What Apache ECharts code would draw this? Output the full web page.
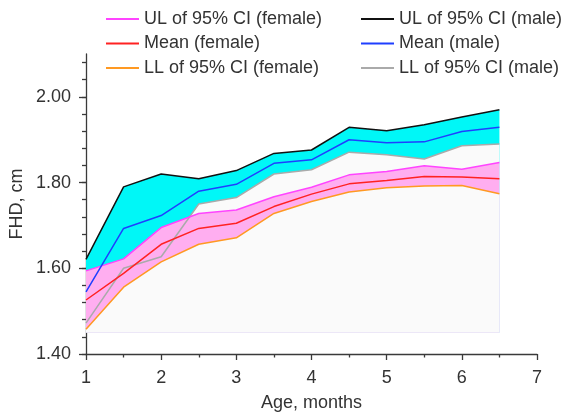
<!DOCTYPE html>
<html>
<head>
<meta charset="utf-8">
<script src="https://cdn.jsdelivr.net/npm/echarts@6/dist/echarts.min.js"></script>
<style>
html,body{margin:0;padding:0;background:#fff;}
#chart{width:568px;height:414px;}
</style>
</head>
<body>
<div id="chart"></div>
<script>
// ---- data ----
const ages = [1, 1.5, 2, 2.5, 3, 3.5, 4, 4.5, 5, 5.5, 6, 6.5];
const maleUL     = [1.621, 1.790, 1.820, 1.809, 1.828, 1.868, 1.876, 1.929, 1.921, 1.935, 1.953, 1.970];
const maleMean   = [1.545, 1.693, 1.723, 1.780, 1.796, 1.845, 1.853, 1.900, 1.893, 1.895, 1.919, 1.929];
const maleLL     = [1.472, 1.600, 1.627, 1.750, 1.765, 1.820, 1.830, 1.871, 1.865, 1.855, 1.886, 1.890];
const femaleUL   = [1.594, 1.622, 1.695, 1.728, 1.736, 1.767, 1.789, 1.818, 1.826, 1.839, 1.831, 1.847];
const femaleMean = [1.526, 1.588, 1.656, 1.693, 1.705, 1.744, 1.773, 1.797, 1.805, 1.814, 1.813, 1.809];
const femaleLL   = [1.458, 1.556, 1.615, 1.656, 1.671, 1.728, 1.756, 1.778, 1.788, 1.792, 1.793, 1.774];
const areaBase = 1.45;
const seriesNames = {
  fUL: 'UL of 95% CI (female)', fMean: 'Mean (female)', fLL: 'LL of 95% CI (female)',
  mUL: 'UL of 95% CI (male)', mMean: 'Mean (male)', mLL: 'LL of 95% CI (male)'
};
const xMin = 1, xMax = 7, xStep = 1;
const yMin = 1.4, yMax = 2.1, yMajor = 0.2, yMinor = 0.04, yMinorTop = 2.08, yMajorTop = 2.0;

// ---- layout ----
const plotLeft = 86, plotRight = 537, plotTop = 54, plotBottom = 354, H = 414;
const pxPerUnit = (plotBottom - plotTop) / (yMax - yMin);
const FONT = 'Liberation Sans, Arial, Helvetica, sans-serif';
const AX = '#3a3a3a';
const TXT = '#333';

function pairs(arr) { return ages.map((a, i) => [a, arr[i]]); }
function gridFor(top) {
  return {
    left: plotLeft, width: plotRight - plotLeft, bottom: H - plotBottom, top: top,
    containLabel: false, outerBoundsMode: 'none'
  };
}

const chart = echarts.init(document.getElementById('chart'), null, { renderer: 'canvas' });

function areaSeries(arr, color) {
  return {
    type: 'line', xAxisIndex: 0, yAxisIndex: 0, data: pairs(arr), symbol: 'none',
    silent: true, z: 1, lineStyle: { width: 0, opacity: 0 },
    areaStyle: { color: color, opacity: 1, origin: areaBase }
  };
}
function lineSeries(name, arr, color) {
  return {
    type: 'line', name: name, xAxisIndex: 0, yAxisIndex: 0, data: pairs(arr), symbol: 'none',
    z: 3, lineStyle: { width: 1.5, color: color }, itemStyle: { color: color }
  };
}
function legendCol(left, names) {
  return {
    orient: 'vertical', left: left, top: 9, padding: 0, icon: 'rect',
    itemWidth: 33, itemHeight: 2, itemGap: 4.5,
    data: names,
    textStyle: { fontSize: 18, color: TXT, fontFamily: FONT, lineHeight: 20 }
  };
}

const option = {
  animation: false,
  backgroundColor: '#fff',
  textStyle: { fontFamily: FONT },
  grid: [
    gridFor(plotTop),
    gridFor(plotBottom - (yMinorTop - yMin) * pxPerUnit),
    gridFor(plotBottom - (yMajorTop - yMin) * pxPerUnit)
  ],
  legend: [
    legendCol(106, [seriesNames.fUL, seriesNames.fMean, seriesNames.fLL]),
    legendCol(361, [seriesNames.mUL, seriesNames.mMean, seriesNames.mLL])
  ],
  xAxis: [
    {
      gridIndex: 0, type: 'value', min: xMin, max: xMax, interval: xStep,
      name: 'Age, months', nameLocation: 'middle', nameGap: 40,
      nameTextStyle: { fontSize: 18, color: TXT, fontFamily: FONT },
      axisLine: { show: true, onZero: false, lineStyle: { color: AX, width: 1.3 } },
      axisTick: { show: true, length: 6, lineStyle: { color: AX, width: 1.3 } },
      minorTick: { show: true, splitNumber: 2, length: 3.5, lineStyle: { color: AX, width: 1.3 } },
      axisLabel: { fontSize: 18, color: TXT, margin: 15, fontFamily: FONT },
      splitLine: { show: false }, minorSplitLine: { show: false }
    },
    { gridIndex: 1, type: 'value', min: xMin, max: xMax, show: false },
    { gridIndex: 2, type: 'value', min: xMin, max: xMax, show: false }
  ],
  yAxis: [
    {
      gridIndex: 0, type: 'value', min: yMin, max: yMax,
      name: 'FHD, cm', nameLocation: 'middle', nameGap: 60,
      nameTextStyle: { fontSize: 18, color: TXT, fontFamily: FONT },
      axisLine: { show: true, onZero: false, lineStyle: { color: AX, width: 1.3 } },
      axisTick: { show: false }, axisLabel: { show: false },
      splitLine: { show: false }
    },
    {
      gridIndex: 1, type: 'value', min: yMin, max: yMinorTop, interval: yMinor,
      axisLine: { show: false }, axisLabel: { show: false },
      axisTick: { show: true, length: 4, lineStyle: { color: AX, width: 1.3 } },
      splitLine: { show: false }
    },
    {
      gridIndex: 2, type: 'value', min: yMin, max: yMajorTop, interval: yMajor,
      axisLine: { show: false },
      axisTick: { show: true, length: 7, lineStyle: { color: AX, width: 1.3 } },
      axisLabel: { fontSize: 18, color: TXT, margin: 15, fontFamily: FONT, formatter: v => v.toFixed(2) },
      splitLine: { show: false }
    }
  ],
  series: [
    areaSeries(maleUL, '#00f7f7'),
    areaSeries(maleLL, '#fafafa'),
    areaSeries(femaleUL, '#ffaef0'),
    areaSeries(femaleLL, '#fafafa'),
    lineSeries(seriesNames.mUL, maleUL, '#111111'),
    lineSeries(seriesNames.mLL, maleLL, '#aaaaaa'),
    lineSeries(seriesNames.fUL, femaleUL, '#ff44ff'),
    lineSeries(seriesNames.fLL, femaleLL, '#ff9922'),
    lineSeries(seriesNames.mMean, maleMean, '#1f3fff'),
    lineSeries(seriesNames.fMean, femaleMean, '#ff2222')
  ]
};
chart.setOption(option);
</script>
</body>
</html>
